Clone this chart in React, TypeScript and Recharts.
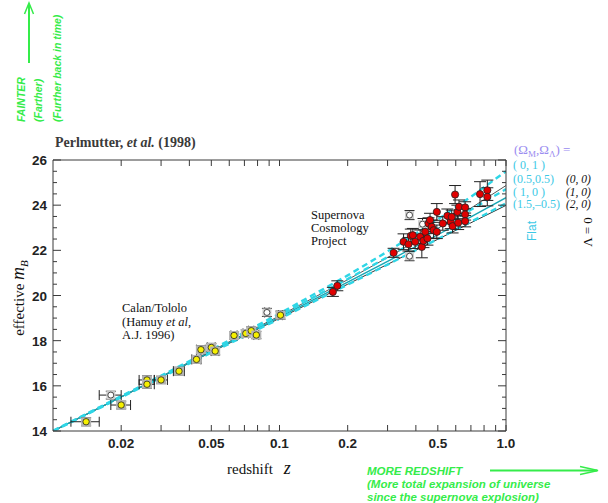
import React from 'react'
import { ComposedChart, XAxis, YAxis, Line, Scatter, ErrorBar } from 'recharts'

// Calan/Tololo sample (yellow)
const ctZ = [0.014, 0.02, 0.026, 0.026, 0.03, 0.036, 0.043, 0.045, 0.05, 0.052, 0.063, 0.071, 0.075, 0.079, 0.101]
const ctM = [14.41, 15.15, 16.26, 16.07, 16.26, 16.65, 17.17, 17.6, 17.7, 17.54, 18.23, 18.32, 18.44, 18.25, 19.13]
const ctErr = [0.18, 0.17, 0.18, 0.18, 0.16, 0.17, 0.17, 0.18, 0.18, 0.17, 0.17, 0.16, 0.17, 0.16, 0.18]
const ctZErr = [0.002, 0.002, 0.002, 0.002, 0.002, 0.002, 0.002, 0.002, 0.002, 0.002, 0.002, 0.002, 0.002, 0.002, 0.002]

// excluded points (open circles)
const exZ = [0.018, 0.088, 0.375, 0.375, 0.428]
const exM = [15.59, 19.25, 23.56, 21.74, 23.16]
const exErr = [0.17, 0.18, 0.2, 0.2, 0.25]
const exZErr = [0.002, 0.002, 0, 0, 0]

// Supernova Cosmology Project (red)
const scpZ = [0.172, 0.18, 0.319, 0.353, 0.371, 0.38, 0.388, 0.397, 0.418, 0.425, 0.432, 0.44, 0.45, 0.455, 0.462, 0.47, 0.479, 0.495, 0.495, 0.526, 0.551, 0.57, 0.576, 0.581, 0.596, 0.61, 0.615, 0.62, 0.66, 0.66, 0.66, 0.768, 0.827, 0.827]
const scpM = [20.16, 20.43, 21.89, 22.38, 22.27, 22.64, 22.67, 22.38, 22.6, 22.15, 22.42, 22.82, 22.53, 23.19, 23.34, 23.04, 22.89, 22.82, 23.7, 23.19, 23.53, 23.26, 23.48, 23.07, 24.47, 23.7, 23.22, 23.93, 23.9, 23.59, 23.29, 24.49, 24.66, 24.37]
const scpErr = [0.2, 0.22, 0.2, 0.35, 0.3, 0.3, 0.3, 0.3, 0.3, 0.48, 0.3, 0.3, 0.3, 0.25, 0.3, 0.3, 0.35, 0.3, 0.37, 0.3, 0.3, 0.3, 0.3, 0.3, 0.4, 0.3, 0.3, 0.3, 0.25, 0.25, 0.25, 0.55, 0.45, 0.4]

// model curves
const modelZ = [0.01, 0.02, 0.05, 0.1, 0.2, 0.3, 0.5, 0.7, 1.0]
const flat01 = [14.01, 15.54, 17.59, 19.2, 20.89, 21.95, 23.37, 24.37, 25.5]
const flat0505 = [14.0, 15.52, 17.55, 19.12, 20.73, 21.7, 22.96, 23.8, 24.71]
const flat1505 = [13.99, 15.49, 17.47, 18.97, 20.48, 21.37, 22.5, 23.26, 24.08]
const open00 = [14.0, 15.52, 17.54, 19.1, 20.7, 21.68, 22.97, 23.87, 24.87]
const eds10 = [14.0, 15.51, 17.51, 19.04, 20.59, 21.51, 22.69, 23.48, 24.33]
const closed20 = [13.99, 15.5, 17.49, 18.99, 20.5, 21.38, 22.49, 23.22, 23.99]

const xTicks = [0.02, 0.03, 0.04, 0.05, 0.06, 0.07, 0.08, 0.09, 0.1, 0.2, 0.3, 0.4, 0.5, 0.6, 0.7, 0.8, 0.9, 1.0]
const xLabelVals = [0.02, 0.05, 0.1, 0.2, 0.5, 1.0]
const xLabelText = ['0.02', '0.05', '0.1', '0.2', '0.5', '1.0']
const yTicks = [14, 14.5, 15, 15.5, 16, 16.5, 17, 17.5, 18, 18.5, 19, 19.5, 20, 20.5, 21, 21.5, 22, 22.5, 23, 23.5, 24, 24.5, 25, 25.5, 26]

const ctData = ctZ.map((z, i) => ({ z, m: ctM[i], mErr: ctErr[i], zErr: ctZErr[i] }))
const exData = exZ.map((z, i) => ({ z, m: exM[i], mErr: exErr[i], zErr: exZErr[i] }))
const scpData = scpZ.map((z, i) => ({ z, m: scpM[i], mErr: scpErr[i] }))
const curve = (vals: number[]) => modelZ.map((z, i) => ({ z, m: vals[i] }))

const AX = '#3a3a3a'
const CYAN = '#2fd6e6'
const GREEN = '#35ec4a'
const SANS = '"Liberation Sans", Arial, sans-serif'
const SERIF = '"Liberation Serif", "Times New Roman", serif'

const BottomTick = ({ x, y, payload }: any) => {
  const idx = xLabelVals.findIndex((v) => Math.abs(v - payload.value) < 1e-9)
  return (
    <g>
      <line x1={x} y1={y} x2={x} y2={y - 6} stroke={AX} />
      {idx >= 0 && (
        <text x={x} y={y + 17} textAnchor="middle" fontFamily={SANS} fontWeight="bold" fontSize={13.5} fill="#222">
          {xLabelText[idx]}
        </text>
      )}
    </g>
  )
}
const TopTick = ({ x, y }: any) => <line x1={x} y1={y} x2={x} y2={y + 6} stroke={AX} />
const LeftTick = ({ x, y, payload }: any) => {
  const major = payload.value % 2 === 0
  return (
    <g>
      <line x1={x} y1={y} x2={x + (major ? 8 : 4)} y2={y} stroke={AX} />
      {major && (
        <text x={x - 6} y={y + 5} textAnchor="end" fontFamily={SANS} fontWeight="bold" fontSize={13.5} fill="#222">
          {payload.value}
        </text>
      )}
    </g>
  )
}
const RightTick = ({ x, y, payload }: any) => {
  const major = payload.value % 2 === 0
  return <line x1={x} y1={y} x2={x - (major ? 8 : 4)} y2={y} stroke={AX} />
}

const CtShape = (p: any) => (
  <g>
    <rect x={p.cx - 5} y={p.cy - 4.5} width={10} height={9} fill="#b4b4b4" />
    <circle cx={p.cx} cy={p.cy} r={3.2} fill="#f6f000" stroke="#222" strokeWidth={0.8} />
  </g>
)
const ExShape = (p: any) => (
  <g>
    <rect x={p.cx - 4.5} y={p.cy - 4} width={9} height={8} fill="#d0d0d0" />
    <circle cx={p.cx} cy={p.cy} r={3} fill="#fff" stroke="#222" strokeWidth={0.8} />
  </g>
)
const ScpShape = (p: any) => <circle cx={p.cx} cy={p.cy} r={3.6} fill="#e00000" stroke="#222" strokeWidth={0.8} />

export default function App() {
  const lineProps = { xAxisId: 'b', yAxisId: 'l', dataKey: 'm', dot: false, activeDot: false, isAnimationActive: false } as any
  return (
    <div style={{ position: 'absolute', left: 0, top: 0, width: 608, height: 503, background: '#fff' }}>
      <ComposedChart width={608} height={503} margin={{ top: 150, right: 92, bottom: 42, left: 13 }}>
        <XAxis xAxisId="b" dataKey="z" type="number" scale="log" domain={[0.01, 1]} allowDataOverflow ticks={xTicks} interval={0} tickSize={0} tickMargin={0} tickLine={false} tick={(p: any) => <BottomTick {...p} />} height={30} stroke={AX} />
        <XAxis xAxisId="t" orientation="top" dataKey="z" type="number" scale="log" domain={[0.01, 1]} allowDataOverflow ticks={xTicks} interval={0} tickSize={0} tickMargin={0} tickLine={false} tick={(p: any) => <TopTick {...p} />} height={10} stroke={AX} />
        <YAxis yAxisId="l" type="number" domain={[14, 26]} allowDataOverflow ticks={yTicks} interval={0} tickSize={0} tickMargin={0} tickLine={false} tick={(p: any) => <LeftTick {...p} />} width={40} stroke={AX} />
        <YAxis yAxisId="r" orientation="right" type="number" domain={[14, 26]} allowDataOverflow ticks={yTicks} interval={0} tickSize={0} tickMargin={0} tickLine={false} tick={(p: any) => <RightTick {...p} />} width={10} stroke={AX} />

        <Line {...lineProps} data={curve(closed20)} stroke="#333" strokeWidth={1} />
        <Line {...lineProps} data={curve(open00)} stroke="#555" strokeWidth={1} />
        <Line {...lineProps} data={curve(eds10)} stroke="#17a6b4" strokeWidth={1.4} />
        <Line {...lineProps} data={curve(flat1505)} stroke={CYAN} strokeWidth={2.4} strokeDasharray="6 4" />
        <Line {...lineProps} data={curve(flat0505)} stroke={CYAN} strokeWidth={2.4} strokeDasharray="6 4" />
        <Line {...lineProps} data={curve(flat01)} stroke={CYAN} strokeWidth={2.4} strokeDasharray="6 4" />

        <Scatter xAxisId="b" yAxisId="l" data={exData} dataKey="m" shape={ExShape} isAnimationActive={false}>
          <ErrorBar dataKey="mErr" direction="y" width={5} stroke="#222" strokeWidth={1} />
          <ErrorBar dataKey="zErr" direction="x" width={5} stroke="#222" strokeWidth={1} />
        </Scatter>
        <Scatter xAxisId="b" yAxisId="l" data={ctData} dataKey="m" shape={CtShape} isAnimationActive={false}>
          <ErrorBar dataKey="mErr" direction="y" width={5} stroke="#222" strokeWidth={1} />
          <ErrorBar dataKey="zErr" direction="x" width={5} stroke="#222" strokeWidth={1} />
        </Scatter>
        <Scatter xAxisId="b" yAxisId="l" data={scpData} dataKey="m" shape={ScpShape} isAnimationActive={false}>
          <ErrorBar dataKey="mErr" direction="y" width={6} stroke="#222" strokeWidth={1} />
        </Scatter>
      </ComposedChart>

      <svg width={608} height={503} style={{ position: 'absolute', left: 0, top: 0, pointerEvents: 'none' }}>
        {/* FAINTER arrow block */}
        <g fill={GREEN} fontFamily={SANS} fontWeight="bold" fontStyle="italic" fontSize={10.5}>
          <text transform="translate(25,122) rotate(-90)">FAINTER</text>
          <text transform="translate(42,122) rotate(-90)">(Farther)</text>
          <text transform="translate(61,122) rotate(-90)">(Further back in time)</text>
        </g>
        <line x1={29} y1={63} x2={29} y2={4} stroke={GREEN} strokeWidth={2} />
        <polyline points="24.5,14 29,3 33.5,14" fill="none" stroke={GREEN} strokeWidth={1.5} />

        {/* MORE REDSHIFT arrow block */}
        <g fill={GREEN} fontFamily={SANS} fontWeight="bold" fontStyle="italic" fontSize={11.5}>
          <text x={367} y={475}>MORE REDSHIFT</text>
          <text x={367} y={488}>(More total expansion of universe</text>
          <text x={367} y={501}>since the supernova explosion)</text>
        </g>
        <line x1={490} y1={470.5} x2={597} y2={470.5} stroke={GREEN} strokeWidth={2} />
        <polyline points="580,466.5 598,470.5 580,474.5" fill="none" stroke={GREEN} strokeWidth={1.5} />

        {/* titles and axis labels */}
        <text x={55} y={147} fontFamily={SERIF} fontWeight="bold" fontSize={14} fill="#3a3a3a">
          Perlmutter, <tspan fontStyle="italic">et al.</tspan> (1998)
        </text>
        <text x={227} y={474} fontFamily={SERIF} fontSize={15} fill="#111">
          redshift<tspan dx={11} fontStyle="italic" fontSize={18}>z</tspan>
        </text>
        <text transform="translate(24,298) rotate(-90)" textAnchor="middle" fontFamily={SERIF} fontSize={15} fill="#111">
          effective <tspan fontStyle="italic" fontSize={18}>m</tspan>
          <tspan fontStyle="italic" fontSize={11} dy={4}>B</tspan>
        </text>

        {/* in-plot labels */}
        <g fontFamily={SERIF} fontSize={12.5} fill="#111">
          <text x={311} y={219}>Supernova</text>
          <text x={311} y={232}>Cosmology</text>
          <text x={311} y={245}>Project</text>
          <text x={122} y={312}>Calan/Tololo</text>
          <text x={122} y={325.5}>
            (Hamuy <tspan fontStyle="italic">et al</tspan>,
          </text>
          <text x={122} y={339}>A.J. 1996)</text>
        </g>

        {/* model legend */}
        <text x={514} y={154} fontFamily={SERIF} fontSize={13} fill="#9a8cf0">
          (Ω<tspan fontSize={9} dy={3}>M</tspan>
          <tspan dy={-3}>,Ω</tspan>
          <tspan fontSize={9} dy={3}>Λ</tspan>
          <tspan dy={-3}>) =</tspan>
        </text>
        <g fontFamily={SERIF} fontSize={12} fill="#3cc9e6">
          <text x={513} y={169}>( 0,   1 )</text>
          <text x={513} y={183}>(0.5,0.5)</text>
          <text x={513} y={195.5}>( 1,    0 )</text>
          <text x={513} y={208}>(1.5,–0.5)</text>
        </g>
        <g fontFamily={SERIF} fontSize={11.5} fontStyle="italic" fill="#111">
          <text x={566} y={183}>(0, 0)</text>
          <text x={566} y={195.5}>(1, 0)</text>
          <text x={566} y={208}>(2, 0)</text>
        </g>
        <text transform="translate(536,231) rotate(-90)" textAnchor="middle" fontFamily={SANS} fontSize={12} fill="#3cc9e6">
          Flat
        </text>
        <text transform="translate(592,232) rotate(-90)" textAnchor="middle" fontFamily={SERIF} fontSize={13} fill="#111">
          Λ = 0
        </text>
      </svg>
    </div>
  )
}
